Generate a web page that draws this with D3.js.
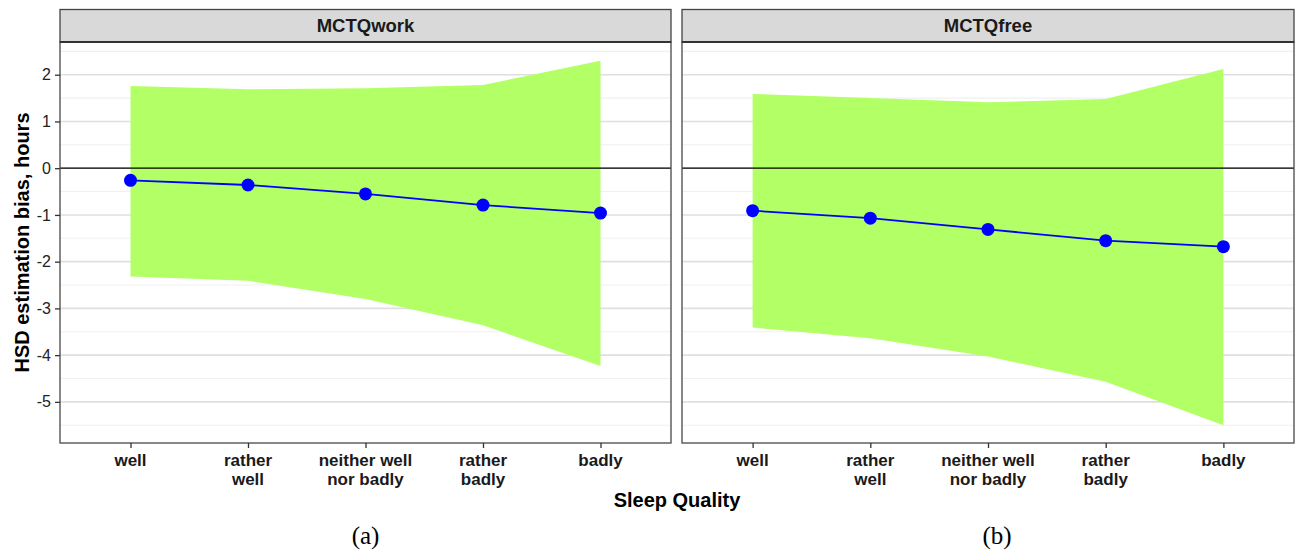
<!DOCTYPE html>
<html>
<head>
<meta charset="utf-8">
<script src="https://cdn.jsdelivr.net/npm/d3@7"></script>
<style>
  html, body { margin: 0; padding: 0; background: #fff; }
  svg { display: block; }
</style>
</head>
<body>
<div id="chart"></div>
<script>
// ---------- data ----------
const categories = ["well", "rather well", "neither well nor badly", "rather badly", "badly"];
const categoryLabelLines = [["well"], ["rather", "well"], ["neither well", "nor badly"], ["rather", "badly"], ["badly"]];
const panelNames = ["MCTQwork", "MCTQfree"];
const panelCaptions = ["(a)", "(b)"];

const workMean  = [-0.26, -0.36, -0.55, -0.79, -0.96];
const workUpper = [1.76, 1.69, 1.71, 1.78, 2.30];
const workLower = [-2.32, -2.41, -2.80, -3.36, -4.23];

const freeMean  = [-0.91, -1.07, -1.31, -1.55, -1.68];
const freeUpper = [1.59, 1.50, 1.41, 1.48, 2.12];
const freeLower = [-3.41, -3.64, -4.03, -4.57, -5.50];

const yMajorTicks = [-5, -4, -3, -2, -1, 0, 1, 2];
const yMinorTicks = [-5.5, -4.5, -3.5, -2.5, -1.5, -0.5, 0.5, 1.5, 2.5];
const yAxisTitle = "HSD estimation bias, hours";
const xAxisTitle = "Sleep Quality";

// ---------- layout ----------
const W = 1298, H = 551;
const panelTop = 42, panelBottom = 443, stripTop = 9.5;
const panelXs = [[60, 671], [682, 1294]];
const fontSans = "'Liberation Sans', Arial, Helvetica, sans-serif";

const panels = [
  { name: panelNames[0], caption: panelCaptions[0], mean: workMean, hi: workUpper, lo: workLower, xr: panelXs[0] },
  { name: panelNames[1], caption: panelCaptions[1], mean: freeMean, hi: freeUpper, lo: freeLower, xr: panelXs[1] }
];

const svg = d3.select("#chart").append("svg")
  .attr("width", W).attr("height", H)
  .attr("viewBox", `0 0 ${W} ${H}`);

const y = d3.scaleLinear().domain([-5.88, 2.70]).range([panelBottom, panelTop]);

panels.forEach((p, pi) => {
  const x = d3.scalePoint().domain(categories).range(p.xr).padding(0.6);
  const g = svg.append("g");
  const x0 = p.xr[0], x1 = p.xr[1];

  // grid
  g.selectAll("line.minor").data(yMinorTicks).join("line")
    .attr("x1", x0).attr("x2", x1)
    .attr("y1", d => y(d)).attr("y2", d => y(d))
    .attr("stroke", "#f0f0f0").attr("stroke-width", 1.1);
  g.selectAll("line.major").data(yMajorTicks).join("line")
    .attr("x1", x0).attr("x2", x1)
    .attr("y1", d => y(d)).attr("y2", d => y(d))
    .attr("stroke", "#dfdfdf").attr("stroke-width", 1.6);

  const rows = categories.map((c, i) => ({ c, m: p.mean[i], hi: p.hi[i], lo: p.lo[i] }));

  // ribbon
  const area = d3.area().x(d => x(d.c)).y0(d => y(d.lo)).y1(d => y(d.hi));
  g.append("path").datum(rows).attr("d", area).attr("fill", "#b3ff66");

  // zero line
  g.append("line").attr("x1", x0).attr("x2", x1)
    .attr("y1", y(0)).attr("y2", y(0))
    .attr("stroke", "#000").attr("stroke-width", 1.3);

  // mean line
  const line = d3.line().x(d => x(d.c)).y(d => y(d.m));
  g.append("path").datum(rows).attr("d", line)
    .attr("fill", "none").attr("stroke", "#0000ff").attr("stroke-width", 1.8);

  g.selectAll("circle").data(rows).join("circle")
    .attr("cx", d => x(d.c)).attr("cy", d => y(d.m)).attr("r", 6.5)
    .attr("fill", "#0000ff");

  // panel border
  g.append("rect").attr("x", x0).attr("y", panelTop)
    .attr("width", x1 - x0).attr("height", panelBottom - panelTop)
    .attr("fill", "none").attr("stroke", "#555").attr("stroke-width", 1.4);

  // strip
  g.append("rect").attr("x", x0).attr("y", stripTop)
    .attr("width", x1 - x0).attr("height", panelTop - stripTop)
    .attr("fill", "#d9d9d9").attr("stroke", "#444").attr("stroke-width", 1.3);
  g.append("line").attr("x1", x0).attr("x2", x1).attr("y1", panelTop).attr("y2", panelTop)
    .attr("stroke", "#333").attr("stroke-width", 2);
  g.append("text").attr("x", (x0 + x1) / 2).attr("y", (stripTop + panelTop) / 2)
    .attr("dy", "0.35em").attr("text-anchor", "middle")
    .attr("font-family", fontSans).attr("font-weight", "bold").attr("font-size", 18.5)
    .attr("fill", "#1a1a1a").text(p.name);

  // x axis
  const xAxis = d3.axisBottom(x).tickSize(5).tickFormat("");
  const xa = g.append("g").attr("transform", `translate(0,${panelBottom})`).call(xAxis);
  xa.select(".domain").remove();
  xa.selectAll(".tick line").attr("stroke", "#333").attr("stroke-width", 1.3);
  categories.forEach((c, i) => {
    const t = g.append("text").attr("x", x(c)).attr("y", 466)
      .attr("text-anchor", "middle").attr("font-family", fontSans)
      .attr("font-weight", "bold").attr("font-size", 17).attr("fill", "#1a1a1a");
    categoryLabelLines[i].forEach((ln, k) => {
      t.append("tspan").attr("x", x(c)).attr("dy", k === 0 ? 0 : 18.5).text(ln);
    });
  });

  // caption
  g.append("text").attr("x", (x0 + x1) / 2 + (pi === 1 ? 9 : 0)).attr("y", 544)
    .attr("text-anchor", "middle").attr("font-family", "'Liberation Serif', 'DejaVu Serif', serif")
    .attr("font-size", 25).attr("fill", "#000").text(p.caption);

  // y axis (left panel only)
  if (pi === 0) {
    const yAxis = d3.axisLeft(y).tickValues(yMajorTicks).tickSize(5).tickPadding(4).tickFormat(d3.format("d"));
    const ya = g.append("g").attr("transform", `translate(${x0},0)`).call(yAxis);
    ya.select(".domain").remove();
    ya.selectAll(".tick line").attr("stroke", "#333").attr("stroke-width", 1.3);
    ya.selectAll(".tick text").attr("font-family", fontSans).attr("font-size", 16)
      .attr("fill", "#222").text(d => d < 0 ? "-" + Math.abs(d) : d);
  }
});

// axis titles
svg.append("text")
  .attr("transform", `translate(29,${(panelTop + panelBottom) / 2}) rotate(-90)`)
  .attr("text-anchor", "middle").attr("font-family", fontSans)
  .attr("font-weight", "bold").attr("font-size", 20).attr("fill", "#000")
  .text(yAxisTitle);

svg.append("text")
  .attr("x", (panelXs[0][0] + panelXs[1][1]) / 2).attr("y", 507)
  .attr("text-anchor", "middle").attr("font-family", fontSans)
  .attr("font-weight", "bold").attr("font-size", 20).attr("fill", "#000")
  .text(xAxisTitle);
</script>
</body>
</html>
